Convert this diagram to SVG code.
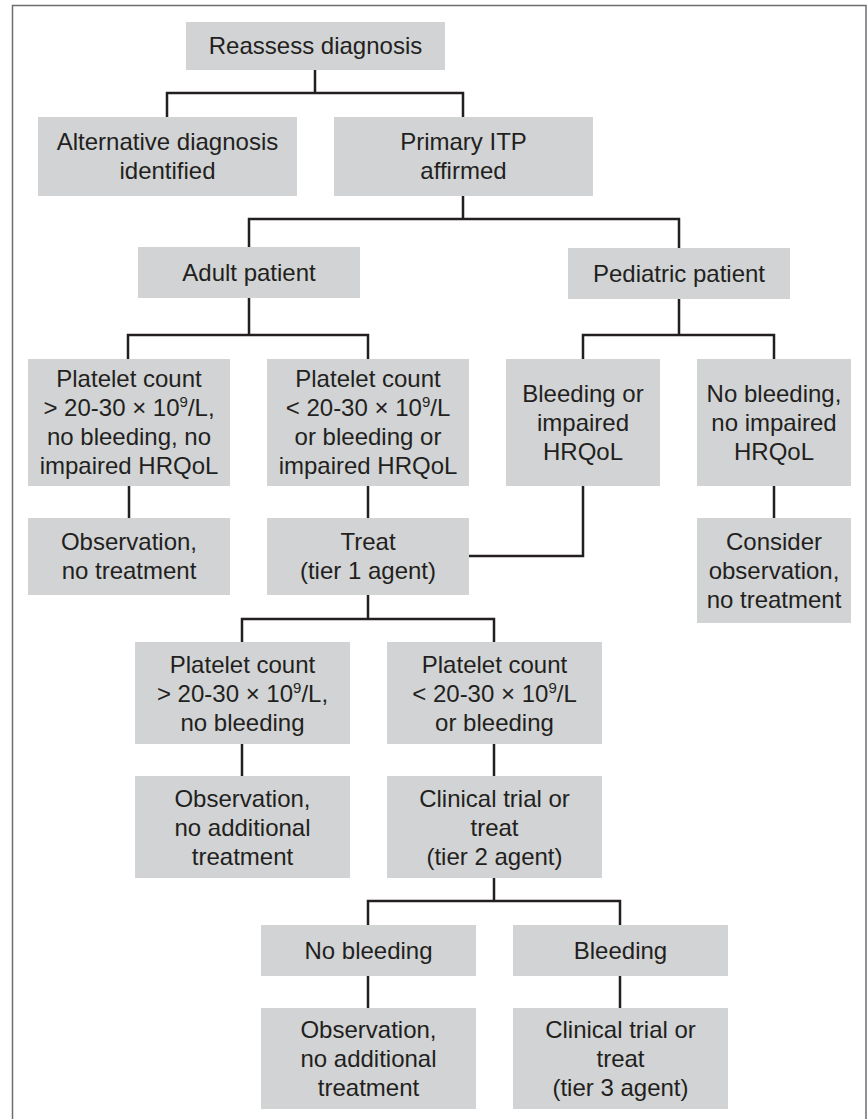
<svg xmlns="http://www.w3.org/2000/svg" width="867" height="1119" viewBox="0 0 867 1119">
<style>
.box{fill:#d1d3d4;}
.t{font-family:"Liberation Sans",Arial,sans-serif;font-size:24px;fill:#231f20;text-anchor:middle;}
.sup{font-size:15px;}
.conn{fill:none;stroke:#231f20;stroke-width:2.5;stroke-linejoin:miter;stroke-linecap:butt;}
.frame{fill:none;stroke:#6d6e70;stroke-width:1.5;}
</style>
<rect class="frame" x="12.5" y="5.5" width="853.5" height="1125"/>
<g id="connectors">
<path class="conn" d="M315 70V93M167 117V93H463V117"/>
<path class="conn" d="M463 196V219M249 247V219H679V248"/>
<path class="conn" d="M249 298V335M128 359V335H368V359"/>
<path class="conn" d="M679 299V335M583 359V335H774V359"/>
<path class="conn" d="M129 486V518M368 486V518M774 486V518"/>
<path class="conn" d="M583 486V556H469"/>
<path class="conn" d="M368 595V619M242 642V619H494V642"/>
<path class="conn" d="M242 744V776M494 744V776"/>
<path class="conn" d="M494 878V901M368 925V901H620V925"/>
<path class="conn" d="M368 976V1008M620 976V1008"/>
</g>
<g id="reassess"><rect class="box" x="186" y="22" width="259" height="48"/><text class="t" x="315.5" y="54">Reassess diagnosis</text></g>
<g id="alternative"><rect class="box" x="38" y="117" width="259" height="79"/><text class="t" x="167.5" y="150">Alternative diagnosis</text><text class="t" x="167.5" y="179">identified</text></g>
<g id="primary"><rect class="box" x="334" y="117" width="259" height="79"/><text class="t" x="463.5" y="150">Primary ITP</text><text class="t" x="463.5" y="179">affirmed</text></g>
<g id="adult"><rect class="box" x="138" y="247" width="222" height="51"/><text class="t" x="249" y="281">Adult patient</text></g>
<g id="pediatric"><rect class="box" x="568" y="248" width="222" height="51"/><text class="t" x="679" y="282">Pediatric patient</text></g>
<g id="adult-high"><rect class="box" x="28" y="359" width="202" height="127"/>
<text class="t" x="129" y="387">Platelet count</text>
<text class="t" x="129" y="416">&gt; 20-30 × 10<tspan class="sup" dy="-9">9</tspan><tspan dy="9">/L,</tspan></text>
<text class="t" x="129" y="445">no bleeding, no</text>
<text class="t" x="129" y="474">impaired HRQoL</text></g>
<g id="adult-low"><rect class="box" x="267" y="359" width="202" height="127"/>
<text class="t" x="368" y="387">Platelet count</text>
<text class="t" x="368" y="416">&lt; 20-30 × 10<tspan class="sup" dy="-9">9</tspan><tspan dy="9">/L</tspan></text>
<text class="t" x="368" y="445">or bleeding or</text>
<text class="t" x="368" y="474">impaired HRQoL</text></g>
<g id="ped-bleeding"><rect class="box" x="506" y="359" width="154" height="127"/>
<text class="t" x="583" y="402">Bleeding or</text>
<text class="t" x="583" y="431">impaired</text>
<text class="t" x="583" y="460">HRQoL</text></g>
<g id="ped-nobleeding"><rect class="box" x="697" y="359" width="154" height="127"/>
<text class="t" x="774" y="402">No bleeding,</text>
<text class="t" x="774" y="431">no impaired</text>
<text class="t" x="774" y="460">HRQoL</text></g>
<g id="obs1"><rect class="box" x="28" y="518" width="202" height="77"/>
<text class="t" x="129" y="550">Observation,</text>
<text class="t" x="129" y="579">no treatment</text></g>
<g id="treat1"><rect class="box" x="267" y="518" width="202" height="77"/>
<text class="t" x="368" y="550">Treat</text>
<text class="t" x="368" y="579">(tier 1 agent)</text></g>
<g id="consider"><rect class="box" x="697" y="518" width="154" height="105"/>
<text class="t" x="774" y="550">Consider</text>
<text class="t" x="774" y="579">observation,</text>
<text class="t" x="774" y="608">no treatment</text></g>
<g id="after1-high"><rect class="box" x="135" y="642" width="215" height="102"/>
<text class="t" x="242.5" y="673">Platelet count</text>
<text class="t" x="242.5" y="702">&gt; 20-30 × 10<tspan class="sup" dy="-9">9</tspan><tspan dy="9">/L,</tspan></text>
<text class="t" x="242.5" y="731">no bleeding</text></g>
<g id="after1-low"><rect class="box" x="387" y="642" width="215" height="102"/>
<text class="t" x="494.5" y="673">Platelet count</text>
<text class="t" x="494.5" y="702">&lt; 20-30 × 10<tspan class="sup" dy="-9">9</tspan><tspan dy="9">/L</tspan></text>
<text class="t" x="494.5" y="731">or bleeding</text></g>
<g id="obs2"><rect class="box" x="135" y="776" width="215" height="102"/>
<text class="t" x="242.5" y="807">Observation,</text>
<text class="t" x="242.5" y="836">no additional</text>
<text class="t" x="242.5" y="865">treatment</text></g>
<g id="treat2"><rect class="box" x="387" y="776" width="215" height="102"/>
<text class="t" x="494.5" y="807">Clinical trial or</text>
<text class="t" x="494.5" y="836">treat</text>
<text class="t" x="494.5" y="865">(tier 2 agent)</text></g>
<g id="nobleeding"><rect class="box" x="261" y="925" width="215" height="51"/>
<text class="t" x="368.5" y="959">No bleeding</text></g>
<g id="bleeding"><rect class="box" x="513" y="925" width="215" height="51"/>
<text class="t" x="620.5" y="959">Bleeding</text></g>
<g id="obs3"><rect class="box" x="261" y="1008" width="215" height="101"/>
<text class="t" x="368.5" y="1038">Observation,</text>
<text class="t" x="368.5" y="1067">no additional</text>
<text class="t" x="368.5" y="1096">treatment</text></g>
<g id="treat3"><rect class="box" x="513" y="1008" width="215" height="101"/>
<text class="t" x="620.5" y="1038">Clinical trial or</text>
<text class="t" x="620.5" y="1067">treat</text>
<text class="t" x="620.5" y="1096">(tier 3 agent)</text></g>
</svg>
